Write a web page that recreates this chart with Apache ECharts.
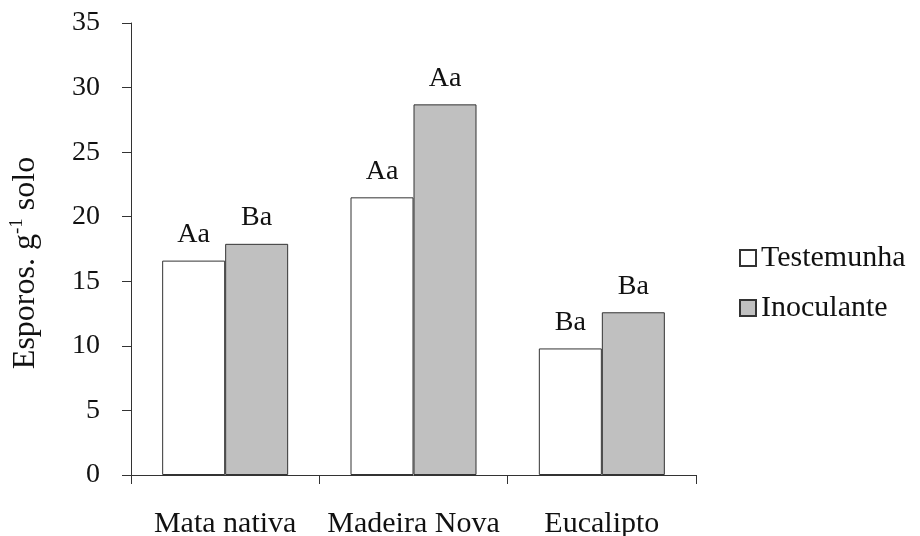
<!DOCTYPE html>
<html>
<head>
<meta charset="utf-8">
<script src="https://cdn.jsdelivr.net/npm/echarts@6/dist/echarts.min.js"></script>
<style>
  html, body { margin: 0; padding: 0; background: #ffffff; }
  #chart { width: 920px; height: 536px; }
</style>
</head>
<body>
<div id="chart"></div>
<script>
// Spore counts per soil origin, with and without inoculant
const categories = ['Mata nativa', 'Madeira Nova', 'Eucalipto'];
const seriesNames = ['Testemunha', 'Inoculante'];
const testemunha = [16.6, 21.5, 9.8];
const inoculante = [17.9, 28.7, 12.6];
// Statistical grouping letters shown above each bar
const testemunhaLetters = ['Aa', 'Aa', 'Ba'];
const inoculanteLetters = ['Ba', 'Aa', 'Ba'];
const yTicks = [0, 5, 10, 15, 20, 25, 30, 35];

const serif = '"Liberation Serif", "Times New Roman", serif';
const ink = '#333333';

const chart = echarts.init(document.getElementById('chart'), null, { renderer: 'canvas' });

function letterLabel(letters) {
  return {
    show: true,
    position: 'top',
    distance: 12,
    fontFamily: serif,
    fontSize: 28,
    color: '#111',
    formatter: p => letters[p.dataIndex]
  };
}

chart.setOption({
  backgroundColor: '#ffffff',
  animation: false,
  grid: { left: 131, right: 224, top: 23, bottom: 61, containLabel: false, outerBoundsMode: 'none' },
  legend: {
    orient: 'vertical',
    left: 739,
    top: 243,
    padding: 0,
    itemWidth: 16,
    itemHeight: 16,
    itemGap: 20,
    icon: 'rect',
    data: seriesNames,
    textStyle: { fontFamily: serif, fontSize: 30, color: '#111' }
  },
  xAxis: {
    type: 'category',
    data: categories,
    axisLine: { show: true, lineStyle: { color: ink, width: 1 } },
    axisTick: { show: true, length: 9, lineStyle: { color: ink } },
    axisLabel: { interval: 0, hideOverlap: false, margin: 34, fontFamily: serif, fontSize: 30, color: '#111' },
    splitLine: { show: false }
  },
  yAxis: {
    type: 'value',
    min: yTicks[0],
    max: yTicks[yTicks.length - 1],
    interval: yTicks[1] - yTicks[0],
    axisLine: { show: true, lineStyle: { color: ink, width: 1 } },
    axisTick: { show: true, length: 9, lineStyle: { color: ink } },
    axisLabel: { margin: 31, fontFamily: serif, fontSize: 28, color: '#111' },
    splitLine: { show: false },
    name: '{a|Esporos. g}{s|-1}{a| solo}',
    nameLocation: 'middle',
    nameRotate: 90,
    nameGap: 87,
    nameTextStyle: {
      padding: [0, 28, 0, 0],
      rich: {
        a: { fontFamily: serif, fontSize: 32, color: '#111', lineHeight: 36 },
        s: { fontFamily: serif, fontSize: 19, color: '#111', verticalAlign: 'top', lineHeight: 36, padding: [0, 0, 10, 0] }
      }
    }
  },
  series: [
    {
      name: seriesNames[0],
      type: 'bar',
      data: testemunha,
      barWidth: 63,
      barGap: '0%',
      itemStyle: { color: '#ffffff', borderColor: ink, borderWidth: 1 },
      label: letterLabel(testemunhaLetters)
    },
    {
      name: seriesNames[1],
      type: 'bar',
      data: inoculante,
      barWidth: 63,
      barGap: '0%',
      itemStyle: { color: '#c0c0c0', borderColor: ink, borderWidth: 1 },
      label: letterLabel(inoculanteLetters)
    }
  ]
});
</script>
</body>
</html>
